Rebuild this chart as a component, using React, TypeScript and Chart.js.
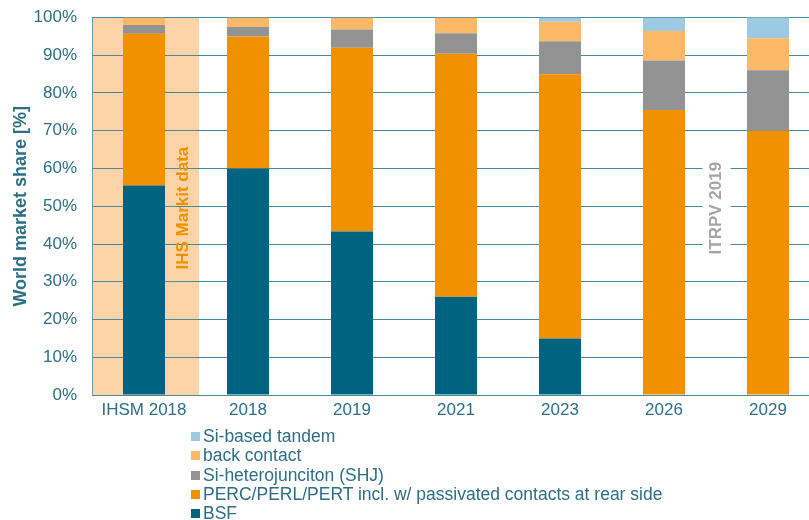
import React, { useEffect, useRef } from "react";
import { Chart, registerables } from "chart.js";

Chart.register(...registerables);

const categories = ["IHSM 2018", "2018", "2019", "2021", "2023", "2026", "2029"];
const bsf = [55.5, 60, 43.3, 26, 15, 0, 0];
const perc = [40.2, 35, 48.7, 64.4, 70, 75.5, 70];
const shj = [2.3, 2.5, 4.8, 5.4, 8.7, 13.1, 16];
const backContact = [2, 2.5, 3.2, 4.2, 5.2, 7.8, 8.5];
const tandem = [0, 0, 0, 0, 1.1, 3.6, 5.6];
const yTicks = [0, 10, 20, 30, 40, 50, 60, 70, 80, 90, 100];

const seriesNames = [
  "BSF",
  "PERC/PERL/PERT incl. w/ passivated contacts at rear side",
  "Si-heterojunciton (SHJ)",
  "back contact",
  "Si-based tandem",
];
const seriesColors = ["#00637f", "#f29100", "#939393", "#fbb867", "#9ecae1"];
const seriesData = [bsf, perc, shj, backContact, tandem];

const TEAL = "#2d6f84";
const FONT = "'Liberation Sans', Arial, sans-serif";

const annotationPlugin = {
  id: "annotations",
  beforeDraw(chart: any) {
    const { ctx, chartArea, scales } = chart;
    const x = scales.x;
    const c0 = x.getPixelForValue(0);
    const c1 = x.getPixelForValue(1);
    const right = c0 + (c1 - c0) * 0.53;
    ctx.save();
    ctx.fillStyle = "#fdd3a8";
    ctx.fillRect(chartArea.left, chartArea.top, right - chartArea.left, chartArea.bottom - chartArea.top);
    ctx.restore();
  },
  afterDatasetsDraw(chart: any) {
    const { ctx, scales } = chart;
    const x = scales.x;
    const y = scales.y;
    const c0 = x.getPixelForValue(0);
    const c1 = x.getPixelForValue(1);
    const step = c1 - c0;
    ctx.save();
    ctx.font = `bold 17px ${FONT}`;
    ctx.textAlign = "center";
    ctx.textBaseline = "middle";
    const ix = c0 + step * 0.375;
    const iy = y.getPixelForValue(49.5);
    ctx.translate(ix, iy);
    ctx.rotate(-Math.PI / 2);
    ctx.fillStyle = "#f29100";
    ctx.fillText("IHS Markit data", 0, 0);
    ctx.restore();

    ctx.save();
    ctx.font = `bold 17px ${FONT}`;
    ctx.textAlign = "center";
    ctx.textBaseline = "middle";
    const c5 = x.getPixelForValue(5);
    const c6 = x.getPixelForValue(6);
    const tx = (c5 + c6) / 2 + 0.5;
    const ty = y.getPixelForValue(49.5);
    ctx.fillStyle = "#ffffff";
    ctx.fillRect(tx - 14, ty - 54, 28, 108);
    ctx.translate(tx, ty);
    ctx.rotate(-Math.PI / 2);
    ctx.fillStyle = "#a6a6a6";
    ctx.fillText("ITRPV 2019", 0, 0);
    ctx.restore();
  },
};

export default function App() {
  const canvasRef = useRef<HTMLCanvasElement | null>(null);

  useEffect(() => {
    document.body.style.margin = "0";
    const canvas = canvasRef.current;
    if (!canvas) return;
    const chart = new Chart(canvas, {
      type: "bar",
      data: {
        labels: categories,
        datasets: seriesNames.map((name, i) => ({
          label: name,
          data: seriesData[i],
          backgroundColor: seriesColors[i],
          borderWidth: 0,
          barPercentage: 0.404,
          categoryPercentage: 1,
        })),
      },
      options: {
        responsive: false,
        animation: false,
        maintainAspectRatio: false,
        layout: { padding: { top: 17.5, left: 6, right: 0, bottom: 4.6 } },
        plugins: {
          legend: { display: false },
          tooltip: { enabled: false },
        },
        scales: {
          x: {
            stacked: true,
            grid: { display: false, drawTicks: false },
            border: { display: true, color: "#4a8a9c", width: 1 },
            ticks: {
              color: TEAL,
              font: { family: FONT, size: 17 },
              padding: 5,
            },
          },
          y: {
            stacked: true,
            min: 0,
            max: 100,
            afterFit(scale: any) {
              scale.width = 86;
              scale.paddingTop = 0;
              scale.paddingBottom = 0;
            },
            afterBuildTicks(scale: any) {
              scale.ticks = yTicks.map((v) => ({ value: v }));
            },
            grid: { color: "#4a8a9c", lineWidth: 1, drawTicks: false },
            border: { display: true, color: "#6f9aa8", width: 1 },
            ticks: {
              color: TEAL,
              font: { family: FONT, size: 17 },
              padding: 15,
              callback: (v: any) => `${v}%`,
            },
            title: {
              display: true,
              text: "World market share [%]",
              color: TEAL,
              font: { family: FONT, size: 18, weight: "bold" },
              padding: { top: 4, bottom: 4 },
            },
          },
        },
      },
      plugins: [annotationPlugin],
    });
    return () => chart.destroy();
  }, []);

  const legendOrder = [4, 3, 2, 1, 0];

  return (
    <div style={{ position: "absolute", left: 0, top: 0, width: 809, height: 520, overflow: "hidden", background: "#fff" }}>
      <canvas ref={canvasRef} width={820} height={430} style={{ position: "absolute", left: 0, top: 0, width: 820, height: 430 }} />
      <div style={{ position: "absolute", left: 191, top: 427, fontFamily: FONT, fontSize: 17.5, color: TEAL }}>
        {legendOrder.map((i) => (
          <div key={i} style={{ display: "flex", alignItems: "center", height: 19.3, whiteSpace: "nowrap" }}>
            <span style={{ display: "inline-block", width: 9, height: 9, background: seriesColors[i], marginRight: 3 }} />
            <span>{seriesNames[i]}</span>
          </div>
        ))}
      </div>
    </div>
  );
}
